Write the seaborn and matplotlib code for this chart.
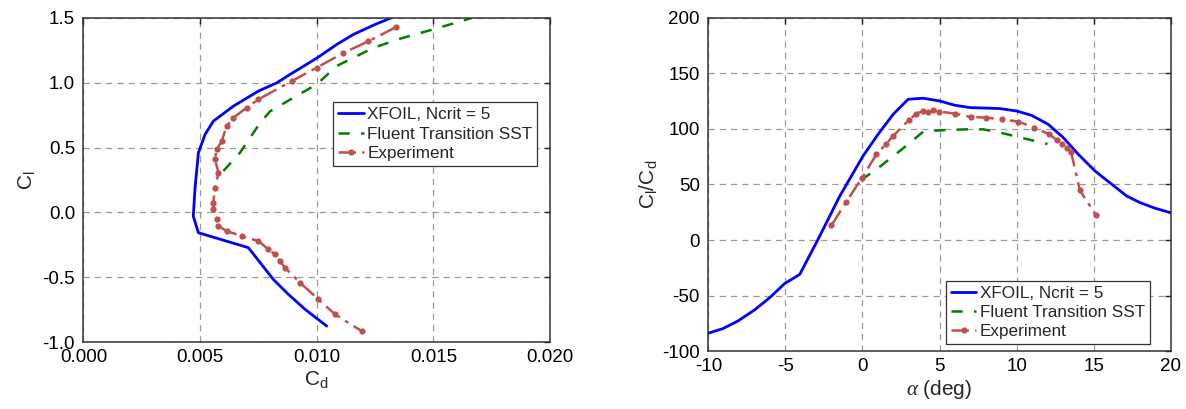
import matplotlib
matplotlib.use("Agg")
import matplotlib.pyplot as plt
import seaborn as sns

# ---- data: Cl vs Cd polar ----
xfoil_cd = [0.01318, 0.0125, 0.01157, 0.01086, 0.0100, 0.00886, 0.00829, 0.0075, 0.00643,
            0.00557, 0.00521, 0.00493, 0.00479, 0.00471, 0.00493, 0.00707, 0.00814,
            0.00879, 0.0095, 0.01043]
xfoil_cl = [1.50, 1.45, 1.373, 1.296, 1.19, 1.065, 1.0, 0.936, 0.82, 0.704, 0.60, 0.46,
            0.20, -0.03, -0.157, -0.272, -0.517, -0.633, -0.748, -0.877]

fluent_cd = [0.0060, 0.00671, 0.00757, 0.0080, 0.0090, 0.0100, 0.01086, 0.01243, 0.01357,
             0.01514, 0.01664]
fluent_cl = [0.32, 0.46, 0.69, 0.78, 0.885, 0.988, 1.13, 1.27, 1.34, 1.42, 1.50]

exp_cd = [0.0134, 0.01221, 0.01114, 0.0100, 0.00893, 0.0075, 0.0070, 0.00643, 0.00614,
          0.00593, 0.00571, 0.00564, 0.00579, 0.00564, 0.00557, 0.00557, 0.00571, 0.00579,
          0.00614, 0.00679, 0.0075, 0.00793, 0.00821, 0.00843, 0.00864, 0.00929, 0.01007,
          0.01079, 0.01193]
exp_cl = [1.43, 1.32, 1.23, 1.117, 1.013, 0.872, 0.808, 0.731, 0.666, 0.55, 0.486, 0.41,
          0.306, 0.19, 0.075, 0.023, -0.054, -0.106, -0.144, -0.183, -0.221, -0.285,
          -0.324, -0.376, -0.427, -0.543, -0.671, -0.787, -0.916]

# ---- data: Cl/Cd vs alpha ----
xfoil_alpha = [-10.0, -9.05, -8.08, -7.0, -6.02, -5.05, -4.07, -2.88, -1.47, 0.04, 1.01,
               1.99, 2.96, 3.94, 5.02, 5.99, 6.97, 8.92, 10.0, 10.97, 12.05, 13.03, 14.0,
               15.08, 16.17, 17.14, 18.0, 18.98, 20.0]
xfoil_ld = [-84, -79.8, -73, -63, -52, -39.3, -31, 0.6, 39.6, 75.7, 95.2, 113.2, 126.8,
            127.7, 125.2, 121.4, 119.3, 118.4, 116.2, 112.3, 104.2, 92.2, 77.2, 62.2,
            50.2, 39.6, 33.7, 28.6, 24.5]

fluent_alpha = [-0.1, 0.91, 1.88, 2.96, 3.94, 5.02, 6.75, 7.83, 8.92, 10.1, 12.0]
fluent_ld = [54, 63.7, 74.2, 86.2, 97.6, 98.8, 99.7, 99.7, 96.8, 92.8, 86.5]

exp_alpha = [-2.01, -1.04, -0.02, 0.91, 1.51, 1.99, 3.01, 3.5, 3.94, 4.26, 4.58, 4.98,
             5.99, 7.01, 8.0, 9.02, 10.1, 11.14, 12.12, 12.6, 12.92, 13.25, 13.53, 14.1,
             15.13]
exp_ld = [13.2, 34.6, 56.2, 77.2, 86.2, 93.7, 108.1, 113.9, 116.2, 115.3, 116.8, 115.7,
          113.9, 110.8, 110.3, 108.7, 106.7, 101.3, 95.2, 90.1, 86.2, 83.2, 79.3, 44.8,
          22.5]

labels = ["XFOIL, Ncrit = 5", "Fluent Transition SST", "Experiment"]
BLUE = "#0000FF"
GREEN = "#008000"
RED = "#C0504D"

sns.set_theme(style="white")
plt.rcParams["font.family"] = ["Liberation Sans", "DejaVu Sans"]
plt.rcParams["axes.unicode_minus"] = False
plt.rcParams["mathtext.fontset"] = "custom"
plt.rcParams["mathtext.rm"] = "Liberation Sans"
plt.rcParams["mathtext.it"] = "Liberation Serif:italic"


def style_axes(ax):
    ax.grid(True, linestyle=(0, (5, 4)), color="#9a9a9a", linewidth=0.9)
    ax.tick_params(direction="in", top=True, right=True, length=4, width=1,
                   labelsize=13.5, colors="#222222")
    ax.tick_params(axis="x", pad=5)
    ax.tick_params(axis="y", pad=6)
    ax.tick_params(labelcolor="black")
    for sp in ax.spines.values():
        sp.set_color("#333333")
        sp.set_linewidth(1.1)
        sp.set_visible(True)


def draw(ax, xb, yb, xg, yg, xr, yr):
    sns.lineplot(x=xb, y=yb, sort=False, estimator=None, ax=ax, color=BLUE,
                 linewidth=2, label=labels[0])
    sns.lineplot(x=xg, y=yg, sort=False, estimator=None, ax=ax, color=GREEN,
                 linewidth=1.8, linestyle=(0, (4.5, 4.5)), label=labels[1])
    sns.lineplot(x=xr, y=yr, sort=False, estimator=None, ax=ax, color=RED,
                 linewidth=1.8, linestyle=(0, (7, 2.5, 1.5, 2.5)), marker="o",
                 markersize=4.5, markeredgewidth=0, label=labels[2])


def add_legend(ax, **kw):
    leg = ax.legend(fontsize=12.3, handlelength=1.5, handletextpad=0.2, borderpad=0.3,
                    labelspacing=0.25, borderaxespad=0, fancybox=False, framealpha=1,
                    **kw)
    leg.get_frame().set_edgecolor("#333333")
    leg.get_frame().set_linewidth(0.9)
    return leg


fig = plt.figure(figsize=(11.86, 4.09), dpi=100)
ax1 = fig.add_axes([0.0703, 0.1638, 0.3935, 0.7922])
ax2 = fig.add_axes([0.5972, 0.1418, 0.3900, 0.8142])

draw(ax1, xfoil_cd, xfoil_cl, fluent_cd, fluent_cl, exp_cd, exp_cl)
ax1.set_xlim(0, 0.02)
ax1.set_ylim(-1.0, 1.5)
ax1.set_xticks([0, 0.005, 0.010, 0.015, 0.020])
ax1.set_xticklabels(["0.000", "0.005", "0.010", "0.015", "0.020"])
ax1.set_yticks([-1.0, -0.5, 0.0, 0.5, 1.0, 1.5])
ax1.set_yticklabels(["-1.0", "-0.5", "0.0", "0.5", "1.0", "1.5"])
ax1.set_xlabel(r"C$_\mathrm{d}$", fontsize=15, labelpad=2)
ax1.set_ylabel(r"C$_\mathrm{l}$", fontsize=15, labelpad=4)
style_axes(ax1)
add_legend(ax1, loc="upper left", bbox_to_anchor=(0.535, 0.74))

draw(ax2, xfoil_alpha, xfoil_ld, fluent_alpha, fluent_ld, exp_alpha, exp_ld)
ax2.set_xlim(-10, 20)
ax2.set_ylim(-100, 200)
ax2.set_xticks(range(-10, 21, 5))
ax2.set_yticks(range(-100, 201, 50))
ax2.set_xlabel(r"$\alpha$ (deg)", fontsize=15, labelpad=2)
ax2.set_ylabel(r"C$_\mathrm{l}$/C$_\mathrm{d}$", fontsize=15, labelpad=2)
style_axes(ax2)
add_legend(ax2, loc="lower right", bbox_to_anchor=(0.955, 0.02))

fig.savefig("out.png", dpi=100)
